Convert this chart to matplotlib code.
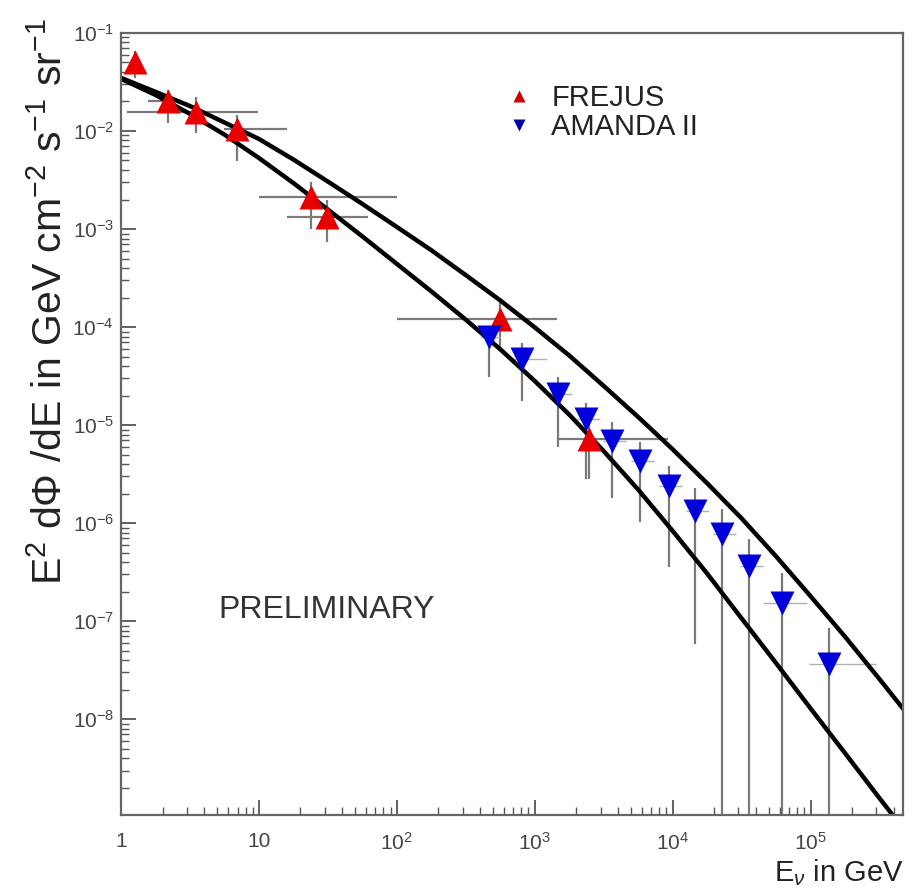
import matplotlib
matplotlib.use("Agg")
import matplotlib.pyplot as plt
from matplotlib.ticker import LogLocator, FixedLocator, NullFormatter
import numpy as np

plt.rcParams['font.family'] = ['Liberation Sans', 'DejaVu Sans']
plt.rcParams['mathtext.fontset'] = 'custom'
plt.rcParams['mathtext.rm'] = 'Liberation Sans'
plt.rcParams['mathtext.it'] = 'Liberation Sans:italic'

# FREJUS
frejus_E = [1.26, 2.19, 3.5, 6.95, 23.9, 31.3, 562, 2490]
frejus_y = [0.050, 0.020, 0.0155, 0.0105, 0.0021, 0.00134, 1.2e-4, 7.3e-6]
frejus_Elo = [1.26, 1.58, 1.1, 5.6, 10, 16, 100, 1460]
frejus_Ehi = [1.26, 2.75, 9.9, 16, 100, 62, 1460, 9300]
frejus_ylo = [0.035, 0.0121, 0.0096, 0.0049, 0.00099, 0.00073, 6e-5, 2.8e-6]
frejus_yhi = [0.065, 0.0263, 0.0223, 0.0147, 0.00305, 0.0020, 1.9e-4, 1.16e-5]

# AMANDA II unfolded spectrum
amanda_E = [469, 813, 1483, 2370, 3660, 5840, 9330, 14600, 22960, 36000, 61600, 135000]
amanda_y = [7.9e-5, 4.7e-5, 2.07e-5, 1.16e-5, 6.9e-6, 4.3e-6, 2.4e-6, 1.34e-6,
            7.8e-7, 3.7e-7, 1.52e-7, 3.7e-8]
amanda_Elo = [400, 690, 1260, 2010, 3110, 4960, 7930, 12400, 19500, 30600, 44900, 96700]
amanda_Ehi = [560, 1230, 1850, 2960, 4580, 7300, 11700, 18300, 28700, 45000, 95000, 296000]
amanda_ylo = [3.1e-5, 1.76e-5, 6.0e-6, 2.8e-6, 1.8e-6, 1.03e-6, 3.6e-7, 5.9e-8,
              1e-10, 1e-10, 1e-10, 1e-10]
amanda_yhi = [1.0e-4, 6.8e-5, 3.1e-5, 1.7e-5, 1.07e-5, 6.8e-6, 3.85e-6, 2.3e-6,
              1.4e-6, 6.9e-7, 3.1e-7, 8.5e-8]

# model curves
curve_E = [1, 1.78, 3.16, 5.62, 10, 17.8, 31.6, 56.2, 100, 178, 316, 562,
           1000, 1778, 3162, 5623, 1e4, 1.78e4, 3.16e4, 5.62e4, 1e5, 1.78e5,
           3.16e5, 4.65e5]
upper_y = [0.0348, 0.02505, 0.01796, 0.01221, 0.00829, 0.00511, 0.00305, 0.001804,
           0.00105, 6.07e-4, 3.39e-4, 1.87e-4, 9.93e-5, 5.13e-5, 2.51e-5, 1.21e-5,
           5.67e-6, 2.55e-6, 1.12e-6, 4.59e-7, 1.80e-7, 6.94e-8, 2.57e-8, 1.30e-8]
lower_y = [0.0340, 0.0233, 0.01493, 0.00919, 0.0053, 0.00294, 0.00158, 8.41e-4,
           4.41e-4, 2.31e-4, 1.19e-4, 5.94e-5, 2.82e-5, 1.28e-5, 5.43e-6, 2.20e-6,
           8.33e-7, 3.06e-7, 1.07e-7, 3.74e-8, 1.29e-8, 4.50e-9, 1.57e-9, 7.8e-10]

fig = plt.figure(figsize=(9.17, 8.9), dpi=100)
ax = fig.add_axes([0.132, 0.084, 0.853, 0.879])

ebar = '#7a7a7a'
fE = np.array(frejus_E); fy = np.array(frejus_y)
ax.errorbar(fE, fy,
            xerr=[fE - np.array(frejus_Elo), np.array(frejus_Ehi) - fE],
            yerr=[fy - np.array(frejus_ylo), np.array(frejus_yhi) - fy],
            fmt='none', ecolor=ebar, elinewidth=1.6, capsize=0, zorder=1)
aE = np.array(amanda_E); ay = np.array(amanda_y)
ax.errorbar(aE, ay,
            xerr=[aE - np.array(amanda_Elo), np.array(amanda_Ehi) - aE],
            fmt='none', ecolor='#b0b0b0', elinewidth=1.0, capsize=0, zorder=1)
ax.errorbar(aE, ay,
            yerr=[ay - np.array(amanda_ylo), np.array(amanda_yhi) - ay],
            fmt='none', ecolor=ebar, elinewidth=1.6, capsize=0, zorder=1)

ax.plot(curve_E, upper_y, color='black', lw=3.2, zorder=2, solid_joinstyle='round')
ax.plot(curve_E, lower_y, color='black', lw=3.2, zorder=2, solid_joinstyle='round')

ax.plot(frejus_E, frejus_y, '^', color='#e80000', ms=17, mec='none', zorder=3)
ax.plot(amanda_E, amanda_y, 'v', color='#0000dd', ms=17, mec='none', zorder=3)

# legend
h1, = ax.plot([], [], '^', color='#cc0000', ms=8, mec='none')
h2, = ax.plot([], [], 'v', color='#0000aa', ms=8, mec='none')
ax.legend([h1, h2], ['FREJUS', 'AMANDA II'], loc='upper left',
          bbox_to_anchor=(0.472, 0.953), frameon=False, fontsize=21,
          handlelength=1.0, handletextpad=0.6, labelspacing=0.02,
          borderpad=0.0, labelcolor='#222222')

ax.text(0.124, 0.262, 'PRELIMINARY', transform=ax.transAxes, fontsize=23,
        color='#333333', va='center', ha='left')

ax.set_xscale('log')
ax.set_yscale('log')
ax.set_xlim(1, 4.7e5)
ax.set_ylim(1.05e-9, 1e-1)

xt = [1, 10, 1e2, 1e3, 1e4, 1e5]
xtl = ['1', '10', '$10^{2}$', '$10^{3}$', '$10^{4}$', '$10^{5}$']
ax.xaxis.set_major_locator(FixedLocator(xt))
ax.set_xticklabels(xtl)
ax.xaxis.set_minor_locator(LogLocator(base=10, subs=np.arange(2, 10), numticks=20))
ax.xaxis.set_minor_formatter(NullFormatter())

yt = [1e-8, 1e-7, 1e-6, 1e-5, 1e-4, 1e-3, 1e-2, 1e-1]
ytl = ['$10^{-8}$', '$10^{-7}$', '$10^{-6}$', '$10^{-5}$', '$10^{-4}$',
       '$10^{-3}$', '$10^{-2}$', '$10^{-1}$']
ax.yaxis.set_major_locator(FixedLocator(yt))
ax.set_yticklabels(ytl)
ax.yaxis.set_minor_locator(LogLocator(base=10, subs=np.arange(2, 10), numticks=20))
ax.yaxis.set_minor_formatter(NullFormatter())

ax.tick_params(which='both', direction='in', top=False, right=False,
               color='#555555', labelcolor='#444444', labelsize=15)
ax.tick_params(which='major', length=11, width=1.3)
ax.tick_params(which='minor', length=6, width=1.0)
ax.tick_params(axis='x', pad=12)
ax.tick_params(axis='y', pad=5)
for s in ax.spines.values():
    s.set_color('#666666')
    s.set_linewidth(1.6)

ax.set_xlabel(r'E$_{\nu}$ in GeV', fontsize=21, color='#222222', loc='right')
ax.xaxis.set_label_coords(1.0, -0.054)
ax.set_ylabel(r'E$^{2}$ d$\Phi$ /dE in GeV cm$^{-2}$ s$^{-1}$ sr$^{-1}$',
              fontsize=29.5, color='#222222')
ax.yaxis.set_label_coords(-0.066, 0.656)

fig.savefig('out.png', dpi=100)
